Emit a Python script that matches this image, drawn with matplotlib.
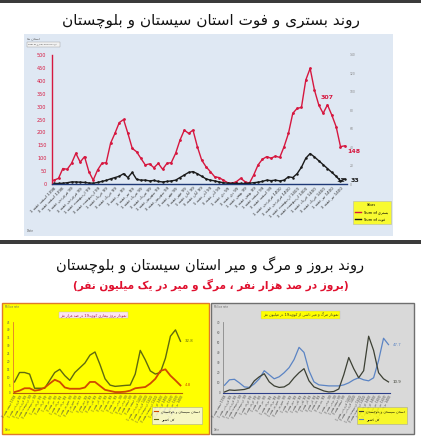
import re
import numpy as np
import matplotlib
matplotlib.use('Agg')
import matplotlib.pyplot as plt
from matplotlib.patches import Rectangle
from matplotlib.lines import Line2D

# ---- data ----
# top chart: weekly hospitalised (red) and deaths (black), Sistan & Baluchestan
hosp = [15, 22, 60, 57, 80, 119, 85, 106, 48, 15, 54, 80, 83, 158, 196, 238, 250,
        196, 138, 125, 99, 74, 78, 63, 80, 57, 80, 83, 119, 170, 209, 196, 209, 145,
        93, 67, 48, 28, 25, 15, 5, 3, 9, 22, 9, 3, 35, 74, 96, 106, 100, 108, 103,
        145, 196, 274, 293, 297, 403, 448, 364, 306, 274, 307, 267, 222, 145, 148]
deaths = [2, 2, 3, 5, 8, 8, 7, 6, 4, 3, 6, 10, 14, 20, 25, 30, 40, 25, 45, 18, 15,
          15, 12, 14, 10, 8, 10, 12, 15, 25, 35, 45, 48, 40, 30, 20, 15, 12, 8, 5,
          3, 2, 2, 2, 2, 3, 5, 7, 10, 15, 13, 15, 12, 15, 28, 25, 40, 65, 100, 118,
          105, 90, 75, 60, 45, 30, 12, 20]
top_labels = ['1398 اسفند هفته 1', '1398 اسفند هفته 3', '99 فروردین هفته 1',
              '99 فروردین هفته 3', '99 اردیبهشت هفته 1', '99 اردیبهشت هفته 3',
              '99 خرداد هفته 1', '99 خرداد هفته 3', '99 تیر هفته 1', '99 تیر هفته 3',
              '99 مرداد هفته 1', '99 مرداد هفته 3', '99 شهریور هفته 1',
              '99 شهریور هفته 3', '99 مهر هفته 1', '99 مهر هفته 3', '99 آبان هفته 1',
              '99 آبان هفته 3', '99 آذر هفته 1', '99 آذر هفته 3', '99 دی هفته 1',
              '99 دی هفته 3', '99 بهمن هفته 1', '99 بهمن هفته 3', '99 اسفند هفته 1',
              '99 اسفند هفته 3', '1400 فروردین هفته 1', '1400 فروردین هفته 3',
              '1400 اردیبهشت هفته 1', '1400 اردیبهشت هفته 3', '1400 خرداد هفته 1',
              '1400 خرداد هفته 3', '1400 تیر هفته 1', '1400 تیر هفته 3']

# bottom left (yellow): incidence per 100k
inc_country = [7, 13, 13, 12, 3, 3, 3, 8, 13, 15, 11, 8, 13, 16, 19, 24, 26, 18, 9,
               5, 4.2, 4.5, 4.8, 5, 12, 27, 21, 14, 12, 13, 22, 36, 40, 32.8]
inc_province = [0.6, 1.5, 3, 3, 1.5, 2, 3.4, 6, 8.4, 7, 3.5, 2.7, 2.7, 2.7, 3.5, 7, 7,
                4.5, 2, 1.3, 0.6, 0.6, 0.8, 1.5, 3, 3.4, 3.8, 6, 9, 14, 15, 11, 8, 4.8]
# bottom right (gray): mortality per million
mort_country = [7.6, 13, 13.5, 10, 6, 5.5, 9, 14, 22, 18, 14, 16, 20, 25, 33, 45, 40,
                22, 11, 8, 7.5, 7, 7, 7, 8, 10, 13, 15, 13, 12, 15, 32, 54, 47.7]
mort_province = [1, 3, 2.6, 3, 3.5, 5, 12, 16, 19, 11, 7, 5.5, 6, 9, 15, 20, 24, 12,
                 6, 4, 2, 1, 1.5, 4, 18, 35, 24, 15, 22, 56, 42, 20, 14, 10.9]
bottom_labels = ['1398 اسفند هفته 3', '99 فروردین هفته 1', '99 فروردین هفته 3',
                 '99 اردیبهشت هفته 1', '99 اردیبهشت هفته 3', '99 خرداد هفته 1',
                 '99 خرداد هفته 3', '99 تیر هفته 1', '99 تیر هفته 3', '99 مرداد هفته 1',
                 '99 مرداد هفته 3', '99 شهریور هفته 1', '99 شهریور هفته 3',
                 '99 مهر هفته 1', '99 مهر هفته 3', '99 آبان هفته 1', '99 آبان هفته 3',
                 '99 آذر هفته 1', '99 آذر هفته 3', '99 دی هفته 1', '99 دی هفته 3',
                 '99 بهمن هفته 1', '99 بهمن هفته 3', '99 اسفند هفته 1',
                 '99 اسفند هفته 3', '1400 فروردین هفته 1', '1400 فروردین هفته 3',
                 '1400 اردیبهشت هفته 1', '1400 اردیبهشت هفته 3', '1400 خرداد هفته 1',
                 '1400 خرداد هفته 3', '1400 تیر هفته 1', '1400 تیر هفته 3',
                 '1400 مرداد هفته 1']

# ---- minimal Persian shaping (matplotlib has no complex text layout) ----
FORMS = {
    'ء': ('\uFE80', None, None, None),
    'آ': ('\uFE81', '\uFE82', None, None),
    'ا': ('\uFE8D', '\uFE8E', None, None),
    'ب': ('\uFE8F', '\uFE90', '\uFE91', '\uFE92'),
    'پ': ('\uFB56', '\uFB57', '\uFB58', '\uFB59'),
    'ت': ('\uFE95', '\uFE96', '\uFE97', '\uFE98'),
    'ث': ('\uFE99', '\uFE9A', '\uFE9B', '\uFE9C'),
    'ج': ('\uFE9D', '\uFE9E', '\uFE9F', '\uFEA0'),
    'چ': ('\uFB7A', '\uFB7B', '\uFB7C', '\uFB7D'),
    'ح': ('\uFEA1', '\uFEA2', '\uFEA3', '\uFEA4'),
    'خ': ('\uFEA5', '\uFEA6', '\uFEA7', '\uFEA8'),
    'د': ('\uFEA9', '\uFEAA', None, None),
    'ذ': ('\uFEAB', '\uFEAC', None, None),
    'ر': ('\uFEAD', '\uFEAE', None, None),
    'ز': ('\uFEAF', '\uFEB0', None, None),
    'ژ': ('\uFB8A', '\uFB8B', None, None),
    'س': ('\uFEB1', '\uFEB2', '\uFEB3', '\uFEB4'),
    'ش': ('\uFEB5', '\uFEB6', '\uFEB7', '\uFEB8'),
    'ص': ('\uFEB9', '\uFEBA', '\uFEBB', '\uFEBC'),
    'ض': ('\uFEBD', '\uFEBE', '\uFEBF', '\uFEC0'),
    'ط': ('\uFEC1', '\uFEC2', '\uFEC3', '\uFEC4'),
    'ظ': ('\uFEC5', '\uFEC6', '\uFEC7', '\uFEC8'),
    'ع': ('\uFEC9', '\uFECA', '\uFECB', '\uFECC'),
    'غ': ('\uFECD', '\uFECE', '\uFECF', '\uFED0'),
    'ف': ('\uFED1', '\uFED2', '\uFED3', '\uFED4'),
    'ق': ('\uFED5', '\uFED6', '\uFED7', '\uFED8'),
    'ک': ('\uFB8E', '\uFB8F', '\uFB90', '\uFB91'),
    'گ': ('\uFB92', '\uFB93', '\uFB94', '\uFB95'),
    'ل': ('\uFEDD', '\uFEDE', '\uFEDF', '\uFEE0'),
    'م': ('\uFEE1', '\uFEE2', '\uFEE3', '\uFEE4'),
    'ن': ('\uFEE5', '\uFEE6', '\uFEE7', '\uFEE8'),
    'و': ('\uFEED', '\uFEEE', None, None),
    'ه': ('\uFEE9', '\uFEEA', '\uFEEB', '\uFEEC'),
    'ی': ('\uFBFC', '\uFBFD', '\uFBFE', '\uFBFF'),
}
MIRROR = {'(': ')', ')': '('}


def shape(text):
    out = []
    for i, ch in enumerate(text):
        if ch not in FORMS:
            out.append(ch)
            continue
        prev = text[i - 1] if i > 0 else ''
        nxt = text[i + 1] if i + 1 < len(text) else ''
        iso, fin, ini, med = FORMS[ch]
        jp = prev in FORMS and FORMS[prev][2] is not None
        jn = nxt in FORMS and ini is not None
        if jp and jn:
            out.append(med)
        elif jp:
            out.append(fin)
        elif jn:
            out.append(ini)
        else:
            out.append(iso)
    return ''.join(out)


def fa(text):
    tokens = re.findall(r'[0-9A-Za-z.]+(?: [0-9A-Za-z.]+)*|.', shape(text))
    return ''.join(MIRROR.get(t, t) for t in reversed(tokens))


# ---- figure ----
W, H = 421, 438
fig = plt.figure(figsize=(W / 100, H / 100), dpi=100)
fig.patch.set_facecolor('white')


def box(x0, y0, x1, y1):
    return [x0 / W, 1 - y1 / H, (x1 - x0) / W, (y1 - y0) / H]


def rect(x0, y0, x1, y1, fc, ec='none', lw=0.8, z=-5):
    fig.add_artist(Rectangle((x0 / W, 1 - y1 / H), (x1 - x0) / W, (y1 - y0) / H,
                             transform=fig.transFigure, facecolor=fc,
                             edgecolor=ec, linewidth=lw, zorder=z))


# dark separator bars
rect(0, 0, W, 3, '#3b3b3b')
rect(0, 240, W, 244, '#3b3b3b')

# ---- top panel ----
fig.text(0.5, 1 - 20 / H, fa('روند بستری و فوت استان سیستان و بلوچستان'),
         ha='center', va='center', fontsize=11, color='#111111')
rect(24, 34, 393, 236, '#dfe8f3')
fig.text(27 / W, 1 - 38 / H, fa('استان ها'), fontsize=2.5, color='#555555',
         va='center')
rect(27, 42, 60, 47, '#f2f2f2', '#999999', 0.3, z=-4)
fig.text(28 / W, 1 - 44.5 / H, 'Sum of ' + fa('بستری') + ' Sum of ' + fa('فوت'),
         fontsize=1.6, color='#333333', va='center')

red = '#d6173f'
ax = fig.add_axes(box(52, 55, 347, 184))
ax.set_facecolor('none')
xs = np.arange(len(hosp))
ax.plot(xs, hosp, color=red, lw=1.0, marker='o', ms=1.0)
ax.plot(xs, deaths, color='#1a1a1a', lw=1.0, marker='o', ms=0.8)
ax.set_xlim(-0.5, len(hosp) - 0.5)
ax.set_ylim(0, 500)
ax.set_yticks(np.arange(0, 501, 50))
ax.tick_params(axis='y', labelsize=3.5, labelcolor=red, length=0, pad=4)
ax.set_xticks(xs[::2])
ax.set_xticklabels([fa(t) for t in top_labels], rotation=45, ha='right',
                   rotation_mode='anchor', fontsize=3.0, color='#333333')
ax.tick_params(axis='x', length=0, pad=1.5)
for s in ['top', 'right']:
    ax.spines[s].set_visible(False)
ax.spines['left'].set_color(red)
ax.spines['left'].set_linewidth(1.0)
ax.spines['bottom'].set_color('#1f3a78')
ax.spines['bottom'].set_linewidth(1.0)
ax.annotate('307', (63, hosp[63]), xytext=(0, 4), textcoords='offset points',
            ha='center', fontsize=4.5, color=red, fontweight='bold')
ax.annotate('148', (67, hosp[67]), xytext=(2, -5), textcoords='offset points',
            ha='left', fontsize=4.5, color=red, fontweight='bold')
ax.annotate('12', (66, deaths[66]), xytext=(0, -1), textcoords='offset points',
            ha='center', fontsize=4.5, color='#1a1a1a', fontweight='bold')
ax.annotate('33', (67, deaths[67]), xytext=(4, -2), textcoords='offset points',
            ha='left', fontsize=4.5, color='#1a1a1a', fontweight='bold')
ax2 = ax.twinx()
ax2.set_ylim(0, 140)
ax2.set_yticks(np.arange(0, 141, 20))
ax2.tick_params(axis='y', labelsize=2.2, labelcolor='#888888', length=0, pad=2)
for s in ax2.spines.values():
    s.set_visible(False)

handles = [Line2D([], [], color=red, lw=1.0), Line2D([], [], color='#1a1a1a', lw=1.0)]
leg = fig.legend(handles, ['Sum of ' + fa('بستری'), 'Sum of ' + fa('فوت')],
                 loc='upper left', bbox_to_anchor=(351 / W, 1 - 199 / H),
                 fontsize=2.6, title='Values', title_fontsize=2.0,
                 frameon=True, facecolor='#ffff00', edgecolor='#aaaaaa',
                 handlelength=1.8, borderpad=0.6, labelspacing=0.9,
                 fancybox=False)
leg.get_frame().set_linewidth(0.4)
fig.text(27 / W, 1 - 231 / H, 'Date', fontsize=2.2, color='#666666', va='center')

# ---- bottom titles ----
fig.text(0.5, 1 - 265 / H, fa('روند بروز و مرگ و میر استان سیستان و بلوچستان'),
         ha='center', va='center', fontsize=10.5, color='#111111')
fig.text(0.5, 1 - 285 / H,
         fa('(بروز در صد هزار نفر ، مرگ و میر در یک میلیون نفر)'),
         ha='center', va='center', fontsize=7.6, color='#e0102f', fontweight='bold')


def small_panel(x0, x1, ax_box, fc, ec, series, colors, widths, ymax, ystep, ends,
                title, title_fc, title_c, leg_fc, leg_labels, axis_c, yl_c):
    rect(x0, 303, x1, 434, fc, ec, 1.0)
    fig.text((x0 + 3) / W, 1 - 307 / H, 'Million rate', fontsize=1.8,
             color='#666666', va='center')
    fig.text((x0 + 3) / W, 1 - 430 / H, 'Date', fontsize=1.8, color='#666666',
             va='center')
    fig.text(((x0 + x1) / 2 - 12) / W, 1 - 315 / H, fa(title), fontsize=2.6,
             color=title_c, ha='center', va='center',
             bbox=dict(boxstyle='square,pad=0.4', fc=title_fc, ec='#bbbbbb', lw=0.3))
    a = fig.add_axes(box(*ax_box))
    a.set_facecolor('none')
    idx = np.arange(len(series[0]))
    for vals, c, w in zip(series, colors, widths):
        a.plot(idx, vals, color=c, lw=w)
    a.set_xlim(-0.3, len(idx) - 0.7)
    a.set_ylim(0, ymax)
    a.set_yticks(np.arange(0, ymax + 0.1, ystep))
    a.tick_params(axis='y', labelsize=2.0, labelcolor='#555555', length=0, pad=2)
    a.set_xticks(idx)
    a.set_xticklabels([fa(t) for t in bottom_labels], rotation=60, ha='right',
                      rotation_mode='anchor', fontsize=2.2, color='#444444')
    a.tick_params(axis='x', length=0, pad=1)
    for s in ['top', 'right']:
        a.spines[s].set_visible(False)
    a.spines['left'].set_color(yl_c)
    a.spines['left'].set_linewidth(0.6)
    a.spines['bottom'].set_color(axis_c)
    a.spines['bottom'].set_linewidth(0.8)
    for vals, c, txt in zip(series, colors, ends):
        a.annotate(txt, (idx[-1], vals[-1]), xytext=(3, 0),
                   textcoords='offset points', fontsize=2.8, color=c, va='center')
    hs = [Line2D([], [], color=c, lw=0.8) for c in colors[::-1]]
    lg = fig.legend(hs, [fa(t) for t in leg_labels], loc='upper right',
                    bbox_to_anchor=((x1 - 5) / W, 1 - 405 / H), fontsize=2.4,
                    frameon=True, facecolor=leg_fc, edgecolor='#999999',
                    handlelength=1.2, borderpad=0.8, labelspacing=1.2,
                    fancybox=False)
    lg.get_frame().set_linewidth(0.4)
    return a


small_panel(2, 209, (13, 322, 182, 393), '#ffff00', '#e07a2a',
            [inc_country, inc_province], ['#5f6a10', '#d04a00'], [1.0, 1.3], 45, 5,
            ['32.8', '4.8'], 'نمودار بروز بیماری کووید19 در صد هزار نفر',
            '#fde4f0', '#9c1a50', '#f4f4f4', ['استان سیستان و بلوچستان', 'کل کشور'],
            '#b06010', '#e07a2a')
small_panel(211, 414, (223, 322, 390, 393), '#d9d9d9', '#6f6f6f',
            [mort_country, mort_province], ['#5b84c4', '#3c4034'], [0.9, 0.9], 70, 10,
            ['47.7', '10.9'], 'نمودار مرگ و میر ناشی از کووید19 در میلیون نفر',
            '#ffff00', '#333333', '#ffff00', ['استان سیستان و بلوچستان', 'کل کشور'],
            '#2d3f8a', '#888888')

fig.savefig('out.png', dpi=100, facecolor='white')
